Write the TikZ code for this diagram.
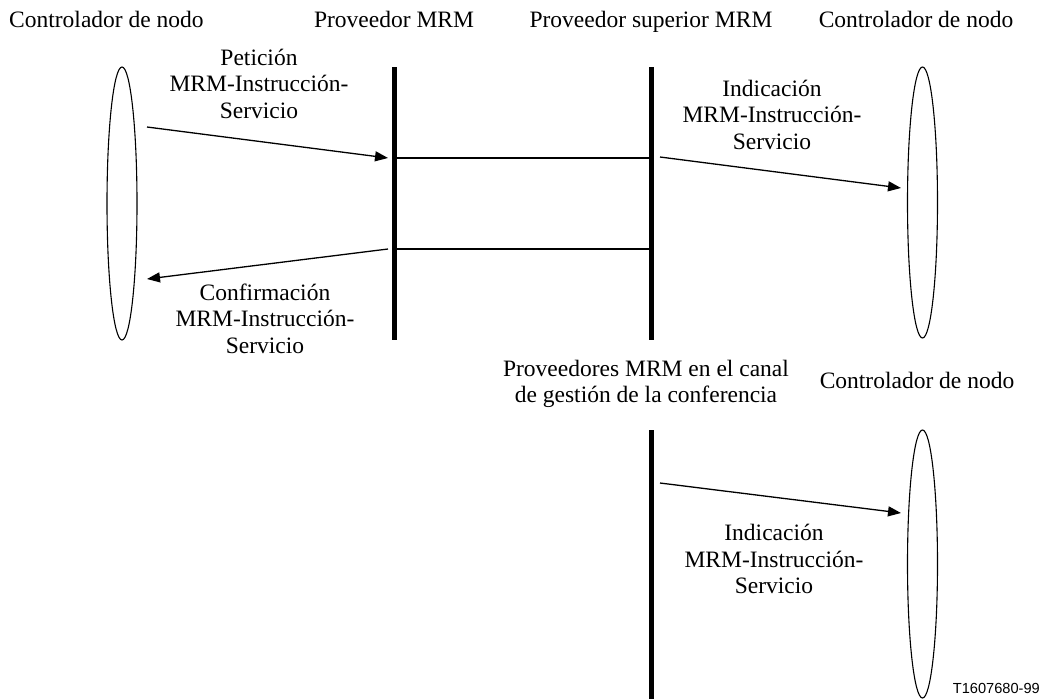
\documentclass[tikz,border=0pt]{standalone}
\usepackage{fontspec}
\setmainfont{Liberation Serif}
\setsansfont{Liberation Sans}
\usetikzlibrary{arrows.meta,shapes.geometric}
\tikzset{
  txt/.style={align=center,inner sep=0pt,font=\fontsize{23.5}{26.5}\selectfont},
  head/.style={inner sep=0pt,anchor=base,font=\fontsize{23.5}{26.5}\selectfont},
  ctrl/.style={draw,ellipse,line width=1.1pt,minimum width=30pt,inner sep=0pt},
  bar/.style={line width=5pt},
  link/.style={line width=1.3pt},
  msg/.style={line width=1.3pt,-{Triangle[length=13pt,width=10pt]}}
}
\begin{document}
\begin{tikzpicture}[x=1pt,y=-1pt]
\useasboundingbox (0,0) rectangle (1045,699);
% top labels
\node[head,anchor=base west] (h1) at (9,27) {Controlador de nodo};
\node[head] (h2) at (394,27) {Proveedor MRM};
\node[head] (h3) at (651,27) {Proveedor superior MRM};
\node[head] (h4) at (916,27) {Controlador de nodo};
% ellipses
\node[ctrl,minimum height=273pt] (e1) at (122,203.5) {};
\node[ctrl,minimum height=271pt] (e2) at (922.5,202.5) {};
\node[ctrl,minimum height=268pt] (e3) at (922.5,564) {};
% bars
\coordinate (b1t) at (394,67); \coordinate (b1b) at (394,340);
\coordinate (b2t) at (651,67); \coordinate (b2b) at (651,340);
\coordinate (b3t) at (651,430); \coordinate (b3b) at (651,699);
\draw[bar] (b1t) -- (b1b);
\draw[bar] (b2t) -- (b2b);
\draw[bar] (b3t) -- (b3b);
% horizontal links
\coordinate (l1a) at (396,158); \coordinate (l1b) at (649,158);
\coordinate (l2a) at (396,249); \coordinate (l2b) at (649,249);
\draw[link] (l1a) -- (l1b);
\draw[link] (l2a) -- (l2b);
% arrows
\coordinate (a1s) at (147,127); \coordinate (a1e) at (388,158);
\draw[msg] (a1s) -- (a1e);
\coordinate (a2s) at (388,249); \coordinate (a2e) at (147,279);
\draw[msg] (a2s) -- (a2e);
\coordinate (a3s) at (660,157); \coordinate (a3e) at (901,188);
\draw[msg] (a3s) -- (a3e);
\coordinate (a4s) at (660,483); \coordinate (a4e) at (901,513);
\draw[msg] (a4s) -- (a4e);
% message labels
\node[txt] (t1) at (259,83.5) {Petición\\MRM-Instrucción-\\Servicio};
\node[txt] (t2) at (265,318.5) {Confirmación\\MRM-Instrucción-\\Servicio};
\node[txt] (t3) at (772,114.5) {Indicación\\MRM-Instrucción-\\Servicio};
\node[txt] (t4) at (774,559) {Indicación\\MRM-Instrucción-\\Servicio};
\node[txt] (t5) at (646,384) {Proveedores MRM en el canal\\de gestión de la conferencia};
\node[head] (h5) at (917,388) {Controlador de nodo};
\node[font=\sffamily\fontsize{14.6}{16}\selectfont,inner sep=0pt,anchor=base east] (code) at (1040,693) {T1607680-99};
\end{tikzpicture}
\end{document}
